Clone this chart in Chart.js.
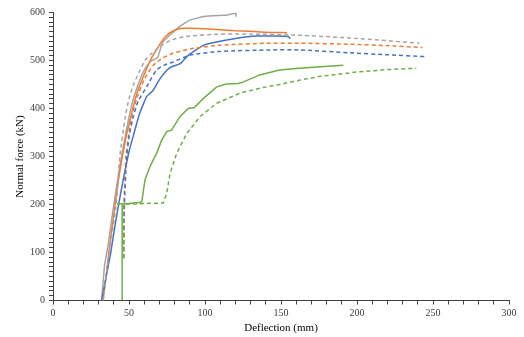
<!DOCTYPE html>
<html>
<head>
<meta charset="utf-8">
<script src="https://cdn.jsdelivr.net/npm/chart.js@4/dist/chart.umd.min.js"></script>
<style>
  html, body { margin: 0; padding: 0; background: #fff; }
  canvas { display: block; }
</style>
</head>
<body>
<canvas id="chart" width="524" height="337"></canvas>
<script>
// ================= DADOS =================
const blueSolidX = [32, 35, 38, 41, 44, 47, 50, 53, 57, 61.6, 64, 66, 70, 75, 78, 81, 84, 88, 94, 100, 110, 120, 134, 145, 155, 156];
const blueSolidY = [0, 50, 100, 160, 215, 265, 310, 345, 390, 425, 432, 438, 460, 480, 487, 490, 494, 508, 522, 533, 540, 546, 551, 551, 550, 545];

const blueDashX = [46.5, 47, 48.5, 50.5, 53, 56, 61.6, 68, 73, 79, 90, 110, 143, 162, 195, 220, 245];
const blueDashY = [88, 200, 300, 350, 385, 415, 445, 480, 490, 497, 511, 519, 522, 522, 516, 512, 508];

const orangeSolidX = [33, 36, 40, 44, 48, 51, 55, 59.4, 64, 68, 72, 75, 80, 85, 90, 100, 110, 120, 130, 140, 154];
const orangeSolidY = [0, 80, 180, 270, 340, 380, 430, 466, 500, 522, 542, 553, 563, 567, 567, 566, 564, 562, 561, 559, 558];

const orangeDashX = [46.3, 46.7, 48, 50, 52, 55, 60, 66, 72, 79, 90, 110, 140, 162, 195, 220, 243];
const orangeDashY = [90, 200, 300, 350, 385, 420, 460, 490, 505, 515, 524, 532, 536, 536, 534, 531, 527];

const graySolidX = [32, 33, 34, 36, 40, 44, 48, 52, 56, 60, 64, 67, 69, 72, 77, 83, 90, 100, 110, 115, 119, 120.5, 120.5];
const graySolidY = [0, 40, 75, 110, 200, 280, 350, 410, 450, 480, 498, 503, 507, 537, 553, 570, 584, 592, 594, 595, 598, 598, 591];

const grayDashX = [33, 37, 41.4, 44, 47.4, 50, 53, 57, 60.5, 65, 70, 76, 81, 90, 110, 130, 160, 200, 241];
const grayDashY = [0, 100, 195, 300, 380, 420, 450, 478, 500, 515, 528, 540, 546, 551, 555, 555, 553, 546, 536];

const greenSolidX = [45.5, 45.5, 42, 50, 57, 58.4, 60.5, 63.8, 68.2, 71.5, 74.8, 78, 83.5, 89, 93, 99, 107.7, 114, 122, 125, 136, 149, 162, 176, 191];
const greenSolidY = [0, 201, 201, 202, 204, 206, 251, 279, 307, 334, 352, 355, 383, 400, 402, 421, 445, 451, 452, 455, 470, 480, 484, 487, 490];

const greenDashX = [46.5, 46.5, 50, 60, 72.6, 74.8, 77, 81.4, 88, 96.7, 107.7, 123, 137, 149, 162, 176, 200, 220, 239];
const greenDashY = [88, 200, 201, 202, 203, 223, 265, 307, 348, 383, 411, 432, 443, 450, 459, 467, 476, 481, 484];

// ================= ESTILO =================
const BLUE = "#4472C4";
const ORANGE = "#ED7D31";
const GRAY = "#A5A5A5";
const GREEN = "#70AD47";
const AXIS = "#404040";
const FONT = "'Liberation Serif', 'Times New Roman', serif";

function pts(xs, ys) {
  return xs.map((x, i) => ({ x: x, y: ys[i] }));
}

function serie(label, xs, ys, color, dashed, tension) {
  return {
    label: label,
    data: pts(xs, ys),
    showLine: true,
    borderColor: color,
    backgroundColor: color,
    borderWidth: 1.5,
    borderDash: dashed ? [4, 3] : [],
    pointRadius: 0,
    tension: tension,
    fill: false
  };
}

// ================= GRÁFICO =================
new Chart(document.getElementById("chart"), {
  type: "scatter",
  data: {
    datasets: [
      serie("green dashed", greenDashX, greenDashY, GREEN, true, 0),
      serie("green solid", greenSolidX, greenSolidY, GREEN, false, 0),
      serie("blue dashed", blueDashX, blueDashY, BLUE, true, 0.2),
      serie("orange dashed", orangeDashX, orangeDashY, ORANGE, true, 0.2),
      serie("gray dashed", grayDashX, grayDashY, GRAY, true, 0.2),
      serie("blue solid", blueSolidX, blueSolidY, BLUE, false, 0.1),
      serie("orange solid", orangeSolidX, orangeSolidY, ORANGE, false, 0.2),
      serie("gray solid", graySolidX, graySolidY, GRAY, false, 0.1)
    ]
  },
  options: {
    responsive: false,
    animation: false,
    layout: { padding: { left: 8, right: 15, top: 12.5, bottom: 2 } },
    plugins: {
      legend: { display: false },
      tooltip: { enabled: false }
    },
    scales: {
      x: {
        type: "linear",
        min: 0,
        max: 300,
        afterFit: (s) => { s.height = 34.5; },
        border: { color: AXIS, width: 1 },
        grid: {
          drawOnChartArea: false,
          drawTicks: true,
          tickLength: 4,
          color: AXIS
        },
        ticks: {
          stepSize: 10,
          autoSkip: false,
          maxRotation: 0,
          padding: 3,
          color: "#404040",
          font: { family: FONT, size: 10 },
          callback: (v) => (v % 50 === 0 ? v : "")
        },
        title: {
          display: true,
          text: "Deflection (mm)",
          color: "#000",
          font: { family: FONT, size: 11 },
          padding: { top: 0, bottom: 0 }
        }
      },
      y: {
        type: "linear",
        min: 0,
        max: 600,
        afterFit: (s) => { s.width = 45; },
        border: { color: AXIS, width: 1 },
        grid: {
          drawOnChartArea: false,
          drawTicks: true,
          tickLength: 4,
          color: AXIS
        },
        ticks: {
          stepSize: 10,
          autoSkip: false,
          padding: 4,
          color: "#404040",
          font: { family: FONT, size: 10 },
          callback: (v) => (v % 100 === 0 ? v : "")
        },
        title: {
          display: true,
          text: "Normal force (kN)",
          color: "#000",
          font: { family: FONT, size: 11 },
          padding: { top: 6, bottom: 0 }
        }
      }
    }
  }
});
</script>
</body>
</html>
